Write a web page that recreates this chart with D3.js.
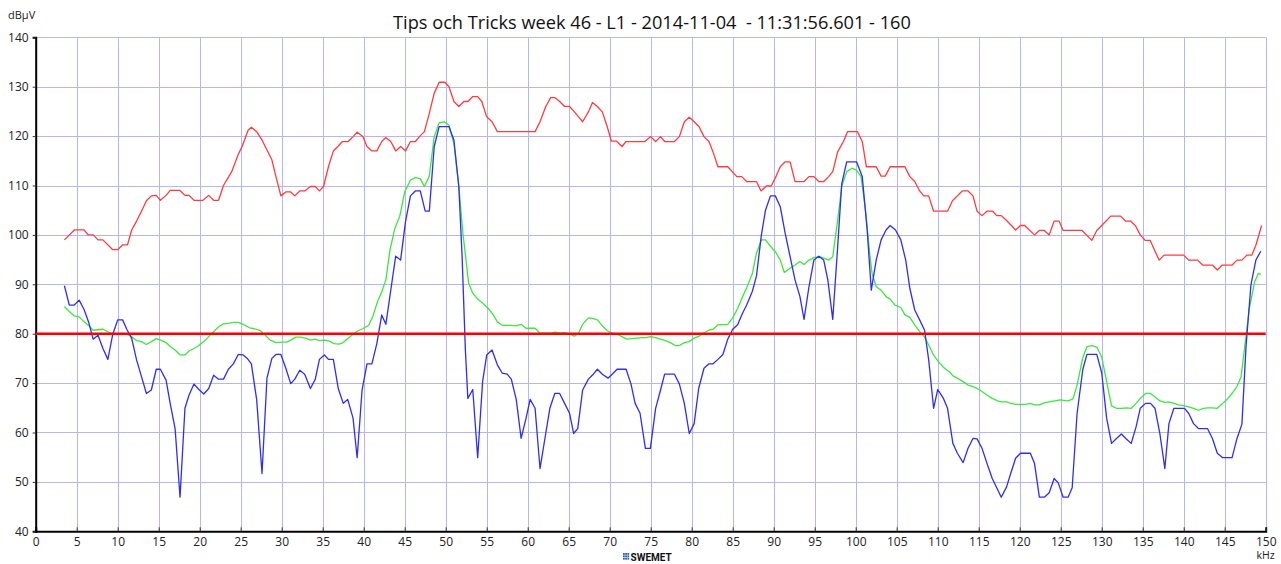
<!DOCTYPE html>
<html>
<head>
<meta charset="utf-8">
<title>Tips och Tricks week 46</title>
<script src="https://cdn.jsdelivr.net/npm/d3@7"></script>
<style>
  html, body { margin: 0; padding: 0; background: #fff; }
  svg { display: block; font-family: "Open Sans", "Noto Sans", sans-serif; }
</style>
</head>
<body>
<div id="chart"></div>
<script>
// Chart texts
const TITLE = 'Tips och Tricks week 46 - L1 - 2014-11-04  - 11:31:56.601 - 160';
const Y_UNIT = 'dBµV';
const X_UNIT = 'kHz';

// Axis ticks
const xTicks = d3.range(0, 151, 5);
const yTicks = [40, 50, 60, 70, 80, 90, 100, 110, 120, 130, 140];

// Limit line (dBµV)
const limitLevel = 80;

// Peak trace [kHz, dBµV]
const peakTrace = [
  [3.5, 99], [4.7, 101], [5.9, 101], [6.4, 100], [7.0, 100], [7.6, 99], [8.2, 99], [9.4, 97],
  [10.0, 97], [10.6, 98], [11.2, 98], [11.7, 101], [12.3, 102.8], [12.9, 104.8], [13.5, 106.9],
  [14.1, 107.9], [14.7, 108], [15.2, 107], [15.9, 108], [16.4, 109], [17.6, 109], [18.2, 108],
  [18.7, 108], [19.3, 107], [20.4, 107], [21.1, 108], [21.7, 107], [22.3, 107], [22.9, 110],
  [23.9, 112.8], [24.7, 116.3], [25.2, 118], [25.9, 121.2], [26.3, 121.8], [26.95, 120.9],
  [27.6, 119.2], [28.2, 117.2], [28.8, 115.2], [29.3, 111.8], [29.9, 107.9], [30.5, 108.7],
  [31.1, 108.7], [31.6, 107.9], [32.2, 108.9], [32.8, 108.9], [33.5, 109.8], [34.1, 109.8],
  [34.6, 108.9], [35.1, 109.8], [35.7, 113.8], [36.3, 117], [36.9, 118], [37.4, 118.9],
  [38.1, 118.9], [38.7, 119.9], [39.2, 120.8], [39.9, 119.9], [40.4, 117.9], [41.0, 117],
  [41.6, 117], [42.2, 118.9], [42.7, 119.7], [43.3, 118.9], [43.9, 117], [44.5, 117.9],
  [45.1, 117], [45.7, 118.9], [46.3, 118.9], [46.8, 119.9], [47.4, 120.9], [48.0, 124.6],
  [48.6, 128.7], [49.2, 130.9], [49.9, 130.9], [50.4, 130], [51.0, 127], [51.6, 126],
  [52.2, 127], [52.7, 127], [53.3, 128], [53.9, 128], [54.4, 127], [55.0, 123.9], [55.65, 122.9],
  [56.3, 120.9], [60.9, 120.9], [61.5, 122.9], [62.2, 126], [62.8, 127.8], [63.3, 127.8],
  [63.9, 127], [64.5, 126], [65.1, 126], [65.7, 124.9], [66.2, 123.9], [66.7, 122.9],
  [67.4, 124.9], [67.9, 126.8], [68.5, 126], [69.1, 124.9], [69.7, 121.9], [70.2, 119],
  [70.8, 119], [71.5, 117.9], [72.0, 118.9], [74.3, 118.9], [75.0, 119.9], [75.6, 118.9],
  [76.2, 119.9], [76.7, 118.9], [77.9, 118.9], [78.5, 119.9], [79.1, 122.9], [79.7, 123.8],
  [80.3, 122.9], [80.9, 121.9], [81.5, 119.9], [82.1, 118.9], [82.6, 116.8], [83.2, 113.8],
  [84.4, 113.8], [85.5, 111.8], [86.1, 111.8], [86.7, 110.8], [87.9, 110.8], [88.45, 108.9],
  [89.1, 109.9], [89.7, 109.9], [90.3, 111.9], [90.8, 113.8], [91.4, 114.8], [92.0, 114.8],
  [92.6, 110.8], [93.7, 110.8], [94.3, 111.8], [94.9, 111.8], [95.5, 110.8], [96.1, 110.8],
  [96.7, 111.8], [97.2, 112.8], [97.8, 116.8], [98.5, 118.9], [99.0, 120.9], [100.2, 120.9],
  [100.8, 118.9], [101.3, 113.8], [102.5, 113.8], [103.1, 111.9], [103.6, 111.9], [104.2, 113.8],
  [106.0, 113.8], [106.6, 111.8], [107.2, 110.8], [107.8, 108.9], [108.3, 107.9], [108.9, 107.9],
  [109.5, 104.8], [111.2, 104.8], [111.8, 106.9], [112.4, 107.9], [113.0, 108.9], [113.7, 108.9],
  [114.3, 107.9], [114.8, 104.8], [115.4, 103.9], [116.0, 104.8], [116.7, 104.8], [117.2, 103.9],
  [117.75, 103.9], [118.4, 102.9], [119.5, 101], [120.1, 101.9], [120.6, 101.9], [121.8, 100],
  [122.4, 100.9], [123.0, 100.9], [123.6, 100], [124.2, 102.8], [124.8, 102.8], [125.3, 100.9],
  [127.6, 100.9], [128.8, 98.9], [129.4, 100.9], [130.0, 101.9], [131.1, 103.8], [132.3, 103.8],
  [132.9, 102.8], [133.5, 102.8], [134.1, 101.9], [134.7, 100], [135.3, 98.9], [135.9, 98.9],
  [137.0, 94.9], [137.6, 95.9], [140.0, 95.9], [140.6, 94.9], [141.7, 94.9], [142.3, 93.9],
  [143.5, 93.9], [144.1, 92.9], [144.7, 93.9], [145.9, 93.9], [146.5, 94.9], [147.1, 94.9],
  [147.7, 95.9], [148.3, 95.9], [148.8, 97.9], [149.5, 101.9]
];

// Average trace [kHz, dBµV]
const averageTrace = [
  [3.5, 85.5], [4.1, 84.5], [4.7, 83.6], [5.3, 83.4], [5.9, 82.4], [6.5, 81.6], [7.0, 80.7],
  [8.2, 80.9], [8.8, 80.4], [9.4, 79.9], [11.1, 79.9], [11.7, 79.4], [12.3, 78.6], [12.9, 78.4],
  [13.5, 77.8], [14.1, 78.4], [14.7, 79.0], [15.2, 78.7], [15.9, 78.2], [16.4, 77.4], [17.0, 76.7],
  [17.6, 75.7], [18.2, 75.7], [18.7, 76.5], [19.3, 77.0], [19.9, 77.6], [20.5, 78.4], [21.1, 79.4],
  [21.7, 80.4], [22.3, 81.4], [22.9, 82.0], [23.5, 82.1], [24.1, 82.3], [24.7, 82.3], [25.3, 81.9],
  [26.1, 81.2], [26.7, 81.0], [27.4, 80.6], [28.0, 79.7], [28.6, 78.7], [29.3, 78.2], [30.0, 78.3],
  [30.6, 78.3], [31.1, 78.7], [31.7, 79.3], [32.3, 79.3], [32.9, 79.1], [33.5, 78.7], [34.1, 78.9],
  [34.6, 78.6], [35.2, 78.7], [35.8, 78.5], [36.4, 78.0], [37.0, 77.9], [37.5, 78.2], [38.1, 79.1],
  [38.7, 79.9], [39.3, 80.6], [39.9, 81.0], [40.6, 81.7], [41.1, 83.4], [41.6, 86.1], [42.2, 88.5],
  [42.7, 90.9], [43.2, 96.9], [43.8, 101.3], [44.4, 103.8], [45.0, 108.7], [45.7, 111.1],
  [46.3, 111.6], [46.9, 111.4], [47.4, 109.8], [48.0, 111.9], [48.6, 119.9], [49.2, 122.7],
  [49.8, 122.9], [50.4, 122.2], [51.0, 118.5], [51.6, 109.8], [52.1, 100.3], [52.8, 90.2],
  [53.3, 88.2], [53.9, 87.0], [54.55, 86.1], [55.2, 85.1], [55.8, 83.8], [56.3, 82.4], [56.9, 81.7],
  [58.0, 81.7], [58.6, 81.6], [59.2, 81.9], [59.8, 81.1], [60.9, 81.1], [61.5, 80.1], [62.8, 80.1],
  [63.4, 80.3], [63.9, 80.1], [64.5, 80.2], [65.1, 79.9], [65.7, 79.5], [66.2, 80.1], [66.7, 81.9],
  [67.4, 83.2], [67.9, 83.1], [68.5, 82.8], [69.1, 81.6], [69.7, 80.6], [70.3, 80.1], [70.9, 79.9],
  [71.5, 79.4], [72.1, 78.9], [72.7, 79.0], [73.3, 79.1], [73.9, 79.2], [74.4, 79.2], [75.0, 79.4],
  [75.6, 79.2], [76.2, 78.9], [76.8, 78.6], [77.4, 78.2], [78.0, 77.6], [78.5, 77.6], [79.1, 78.2],
  [79.7, 78.4], [80.3, 79.1], [80.9, 79.5], [81.5, 80.2], [82.1, 80.7], [82.6, 80.9], [83.2, 81.8],
  [84.4, 81.9], [85.0, 83.2], [85.6, 85.1], [86.1, 87.1], [86.7, 89.3], [87.4, 92.2], [87.9, 96.3],
  [88.5, 99.0], [89.0, 99.0], [89.6, 97.7], [90.2, 96.6], [90.8, 94.9], [91.3, 92.4], [91.95, 93.2],
  [92.6, 93.9], [93.2, 94.6], [93.7, 94.0], [94.3, 94.9], [94.9, 95.4], [95.5, 95.6], [96.1, 95.3],
  [96.7, 94.9], [97.2, 95.6], [97.8, 103.0], [98.3, 109.8], [98.9, 112.8], [99.55, 113.5],
  [100.1, 113.1], [100.65, 111.8], [101.2, 105.0], [101.7, 96.3], [102.0, 92.2], [102.5, 89.5],
  [103.1, 88.8], [103.7, 87.5], [104.2, 87.0], [104.8, 85.8], [105.5, 85.3], [106.0, 83.8],
  [106.6, 83.3], [107.2, 81.8], [107.8, 80.4], [108.4, 79.3], [108.9, 77.7], [109.5, 75.7],
  [110.1, 74.3], [110.7, 73.2], [111.4, 72.3], [111.9, 71.4], [112.5, 70.9], [113.1, 70.3],
  [113.7, 69.6], [114.3, 69.3], [114.8, 68.9], [115.4, 68.3], [116.0, 67.6], [116.65, 66.9],
  [117.3, 66.4], [117.75, 66.2], [118.4, 66.2], [118.9, 65.9], [119.5, 65.7], [120.7, 65.7],
  [121.3, 65.9], [121.8, 65.6], [122.4, 65.6], [123.0, 66.0], [123.65, 66.2], [124.3, 66.4],
  [124.9, 66.6], [125.9, 66.4], [126.5, 66.8], [127.0, 69.6], [127.7, 75.2], [128.2, 77.4],
  [128.8, 77.6], [129.4, 77.3], [130.0, 75.3], [130.6, 70.3], [131.2, 65.4], [131.8, 64.9],
  [132.4, 64.9], [133.0, 65.0], [133.6, 64.9], [134.2, 65.9], [134.7, 66.9], [135.35, 67.9],
  [135.95, 67.9], [136.5, 67.2], [137.1, 66.4], [137.7, 66.1], [138.2, 66.2], [138.8, 65.9],
  [139.4, 65.6], [140.1, 65.4], [140.6, 65.2], [141.2, 64.9], [141.8, 64.5], [142.4, 64.9],
  [142.9, 65.0], [143.5, 65.0], [144.1, 64.9], [144.75, 65.9], [145.4, 66.9], [145.9, 67.9],
  [146.5, 69.3], [147.0, 71.3], [147.5, 78.1], [148.0, 85.1], [148.65, 90.5], [149.1, 92.2],
  [149.4, 92.0]
];

// Quasi-peak trace [kHz, dBµV]
const quasiPeakTrace = [
  [3.5, 89.7], [4.1, 85.8], [4.7, 85.8], [5.3, 86.8], [5.9, 84.9], [6.5, 82.1], [7.0, 78.9],
  [7.6, 79.7], [8.2, 77.0], [8.8, 74.8], [9.4, 79.9], [10.0, 82.8], [10.6, 82.8], [11.1, 80.9],
  [11.7, 79.1], [12.3, 74.7], [12.9, 71.3], [13.5, 67.9], [14.1, 68.6], [14.7, 72.8], [15.2, 72.8],
  [15.9, 70.6], [16.4, 65.9], [17.0, 60.8], [17.6, 46.9], [18.2, 64.9], [18.7, 67.6], [19.3, 69.8],
  [19.9, 68.7], [20.5, 67.8], [21.1, 68.9], [21.7, 71.6], [22.3, 70.8], [22.9, 70.8], [23.5, 72.8],
  [24.1, 73.9], [24.7, 75.8], [25.3, 75.7], [25.8, 75.0], [26.3, 73.9], [26.95, 66.6], [27.6, 51.7],
  [28.2, 71.0], [28.8, 75.0], [29.3, 75.8], [29.9, 75.8], [30.5, 73.0], [31.1, 69.9], [31.6, 70.8],
  [32.2, 72.6], [32.8, 71.8], [33.5, 68.9], [34.1, 70.8], [34.6, 74.8], [35.2, 75.7], [35.7, 74.8],
  [36.3, 74.8], [36.9, 68.9], [37.5, 65.9], [38.05, 66.7], [38.7, 62.9], [39.2, 54.9], [39.8, 68.6],
  [40.4, 73.9], [41.0, 73.9], [41.6, 78.0], [42.2, 83.8], [42.7, 81.9], [43.3, 88.8], [43.9, 95.7],
  [44.5, 94.9], [45.1, 102.7], [45.7, 107.9], [46.3, 108.9], [46.9, 108.9], [47.5, 104.8],
  [48.0, 104.8], [48.6, 117.9], [49.2, 121.9], [50.4, 121.9], [51.0, 119.2], [51.6, 109.8],
  [52.0, 95.6], [52.4, 76.7], [52.7, 66.9], [53.3, 68.7], [53.9, 54.9], [54.5, 70.3], [55.0, 75.7],
  [55.65, 76.7], [56.3, 73.7], [56.9, 72.0], [57.5, 71.8], [58.0, 70.8], [58.6, 66.7], [59.2, 58.8],
  [59.8, 62.9], [60.3, 66.7], [60.9, 64.9], [61.5, 52.7], [62.2, 59.8], [62.7, 64.9], [63.3, 67.9],
  [63.9, 67.9], [64.5, 65.9], [65.1, 63.9], [65.6, 59.8], [66.1, 60.8], [66.7, 68.6], [67.4, 70.8],
  [68.0, 71.8], [68.5, 72.8], [69.1, 71.8], [69.8, 71.0], [70.3, 71.8], [70.9, 72.8], [72.0, 72.8],
  [72.6, 69.8], [73.1, 65.9], [73.7, 63.9], [74.35, 56.8], [74.96, 56.8], [75.6, 64.9], [76.2, 68.6],
  [76.7, 71.8], [77.9, 71.8], [78.5, 69.8], [79.1, 65.9], [79.7, 59.8], [80.3, 61.8], [80.85, 68.9],
  [81.5, 73.0], [82.1, 73.9], [82.6, 73.9], [83.2, 74.8], [83.8, 75.8], [84.4, 78.9], [85.0, 80.9],
  [85.6, 81.8], [86.1, 83.8], [86.7, 85.8], [87.4, 88.6], [87.9, 91.7], [88.5, 100.0], [89.0, 105.0],
  [89.6, 107.9], [90.2, 107.9], [90.8, 105.7], [91.4, 100.3], [92.0, 95.6], [92.6, 90.9],
  [93.2, 87.5], [93.7, 82.9], [94.3, 89.5], [94.9, 94.9], [95.5, 95.7], [96.1, 94.9], [96.6, 90.9],
  [97.2, 82.9], [97.8, 97.6], [98.3, 110.4], [98.9, 114.8], [100.1, 114.8], [100.8, 111.8],
  [101.4, 101.0], [101.9, 88.8], [102.5, 94.9], [103.1, 99.0], [103.7, 101.0], [104.2, 101.9],
  [104.85, 101.0], [105.5, 99.0], [106.1, 94.9], [106.6, 89.2], [107.2, 84.8], [107.8, 82.8],
  [108.4, 80.7], [108.9, 74.7], [109.5, 64.9], [110.0, 68.7], [110.7, 66.9], [111.2, 64.9],
  [111.85, 57.8], [112.4, 55.8], [113.1, 53.9], [113.7, 56.8], [114.3, 58.8], [114.8, 58.7],
  [115.4, 56.8], [116.0, 53.8], [116.65, 50.7], [117.2, 48.8], [117.75, 46.9], [118.4, 49.0],
  [118.9, 51.7], [119.5, 54.8], [120.1, 55.8], [121.3, 55.8], [121.8, 53.8], [122.4, 46.9],
  [123.0, 46.9], [123.6, 47.8], [124.2, 50.7], [124.7, 49.8], [125.3, 46.9], [125.9, 46.9],
  [126.4, 48.8], [127.0, 63.9], [127.7, 72.8], [128.2, 75.8], [129.4, 75.8], [130.0, 72.1],
  [130.6, 62.9], [131.2, 57.8], [131.8, 58.8], [132.4, 59.7], [133.0, 58.7], [133.6, 57.8],
  [134.2, 61.2], [134.7, 64.9], [135.35, 65.9], [135.95, 65.9], [136.5, 64.9], [137.1, 59.7],
  [137.7, 52.7], [138.2, 61.8], [138.8, 64.9], [140.1, 64.9], [140.6, 63.9], [141.2, 61.8],
  [141.8, 60.8], [142.9, 60.8], [143.5, 58.8], [144.1, 55.8], [144.75, 54.9], [145.9, 54.9],
  [146.5, 58.8], [147.1, 61.7], [147.6, 77.4], [148.2, 89.9], [148.8, 94.9], [149.4, 96.7]
];

const COLORS = {
  grid: '#b6b6f4',
  axis: '#000000',
  text: '#222222',
  peak: '#ff3c3c',
  average: '#3ce83c',
  quasiPeak: '#2e2ef0',
  limit: '#ff0000',
  logo: '#1f5fb0'
};

const width = 1281;
const height = 564;
const margin = { top: 37.3, right: 15.3, bottom: 32.7, left: 35.7 };

const svg = d3.select('#chart')
  .append('svg')
  .attr('width', width)
  .attr('height', height);

const x = d3.scaleLinear()
  .domain([0, 150])
  .range([margin.left, width - margin.right]);

const y = d3.scaleLinear()
  .domain([40, 140])
  .range([height - margin.bottom, margin.top]);

// Grid
const grid = svg.append('g').attr('class', 'grid');

grid.selectAll('line.vgrid')
  .data(xTicks.filter((d) => d > 0))
  .join('line')
  .attr('class', 'vgrid')
  .attr('x1', (d) => Math.round(x(d)) + 0.5)
  .attr('x2', (d) => Math.round(x(d)) + 0.5)
  .attr('y1', y(140))
  .attr('y2', y(40))
  .attr('stroke', COLORS.grid)
  .attr('stroke-width', 1);

grid.selectAll('line.hgrid')
  .data(yTicks.filter((d) => d > 40))
  .join('line')
  .attr('class', 'hgrid')
  .attr('x1', x(0))
  .attr('x2', x(150))
  .attr('y1', (d) => Math.round(y(d)) + 0.5)
  .attr('y2', (d) => Math.round(y(d)) + 0.5)
  .attr('stroke', COLORS.grid)
  .attr('stroke-width', 1);

// Axes
const xAxis = svg.append('g')
  .attr('transform', `translate(0,${y(40)})`)
  .call(d3.axisBottom(x).tickValues(xTicks).tickSize(-4).tickPadding(6).tickFormat(d3.format('d')));

const yAxis = svg.append('g')
  .attr('transform', `translate(${x(0)},0)`)
  .call(d3.axisLeft(y).tickValues(yTicks).tickSize(3).tickPadding(4).tickFormat(d3.format('d')));

[xAxis, yAxis].forEach((axis) => {
  axis.select('.domain').attr('stroke', COLORS.axis).attr('stroke-width', 2);
  axis.selectAll('.tick line').attr('stroke', '#333');
  axis.selectAll('.tick text')
    .attr('fill', COLORS.text)
    .style('font-size', '12px')
    .style('font-family', '"Open Sans", sans-serif');
});

// Traces
const line = d3.line()
  .x((d) => x(d[0]))
  .y((d) => y(d[1]));

const traces = [
  { data: peakTrace, color: COLORS.peak },
  { data: averageTrace, color: COLORS.average },
  { data: quasiPeakTrace, color: COLORS.quasiPeak }
];

svg.append('g')
  .attr('class', 'traces')
  .selectAll('path')
  .data(traces)
  .join('path')
  .attr('d', (d) => line(d.data))
  .attr('fill', 'none')
  .attr('stroke', (d) => d.color)
  .attr('stroke-width', 1.3)
  .attr('stroke-linejoin', 'round');

// Limit line
svg.append('line')
  .attr('x1', x(0))
  .attr('x2', x(150))
  .attr('y1', y(limitLevel))
  .attr('y2', y(limitLevel))
  .attr('stroke', COLORS.limit)
  .attr('stroke-width', 2.5);

// Title and units
svg.append('text')
  .attr('x', 652)
  .attr('y', 29)
  .attr('text-anchor', 'middle')
  .attr('fill', '#111')
  .style('font-size', '18.2px')
  .style('white-space', 'pre')
  .text(TITLE);

svg.append('text')
  .attr('x', 8)
  .attr('y', 19)
  .attr('fill', COLORS.text)
  .style('font-size', '11px')
  .text(Y_UNIT);

svg.append('text')
  .attr('x', x(150))
  .attr('y', 559)
  .attr('text-anchor', 'middle')
  .attr('fill', COLORS.text)
  .style('font-size', '10.5px')
  .text(X_UNIT);

// SWEMET logo
const logo = svg.append('g').attr('transform', 'translate(623,553)');
for (let r = 0; r < 3; r++) {
  for (let c = 0; c < 3; c++) {
    logo.append('rect')
      .attr('x', c * 2.2)
      .attr('y', r * 2.4)
      .attr('width', 1.8)
      .attr('height', 1.8)
      .attr('fill', COLORS.logo);
  }
}
logo.append('text')
  .attr('x', 7.5)
  .attr('y', 7.5)
  .attr('fill', '#111')
  .style('font-size', '10px')
  .style('font-weight', 'bold')
  .style('font-family', '"Liberation Sans Narrow", "Roboto", sans-serif')
  .text('SWEMET');
</script>
</body>
</html>
